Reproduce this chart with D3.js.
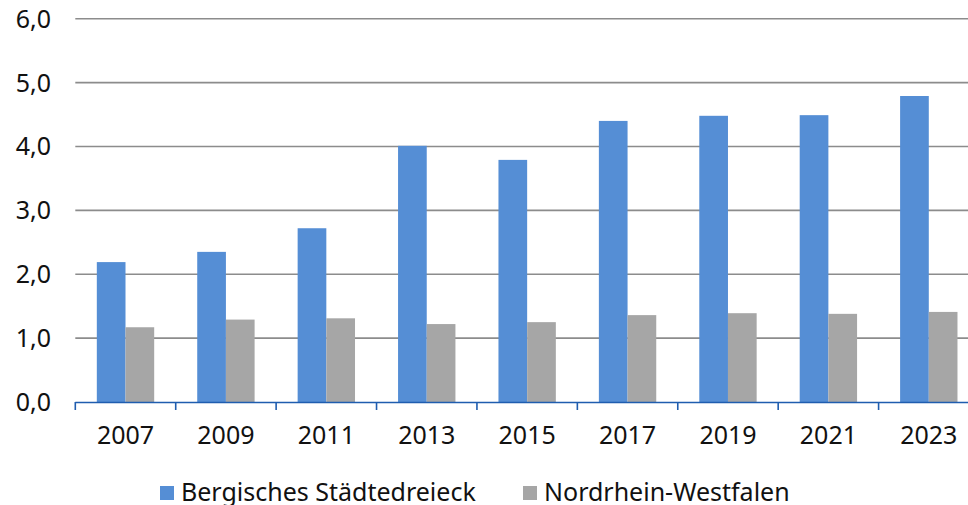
<!DOCTYPE html>
<html>
<head>
<meta charset="utf-8">
<script src="https://cdn.jsdelivr.net/npm/d3@7"></script>
<style>
  body { margin: 0; background: #fff; }
  svg { display: block; font-family: "Noto Sans", "Open Sans", sans-serif; }
</style>
</head>
<body>
<script>
// Data
const years = ['2007', '2009', '2011', '2013', '2015', '2017', '2019', '2021', '2023']
const bergisch = [2.19, 2.35, 2.72, 4.01, 3.79, 4.40, 4.48, 4.49, 4.79]
const nrw = [1.17, 1.29, 1.31, 1.22, 1.25, 1.36, 1.39, 1.38, 1.41]
const seriesNames = ['Bergisches Städtedreieck', 'Nordrhein-Westfalen']
const seriesColors = ['#558ED5', '#A6A6A6']
const yTicks = [0, 1, 2, 3, 4, 5, 6]

const w = 968
const h = 505
const plotLeft = 75.3
const plotRight = 979
const plotTop = 18.7
const plotBottom = 402
const fontSize = '25px'

const svg = d3.select('body')
  .append('svg')
  .attr('width', w)
  .attr('height', h)

const x = d3.scaleBand().domain(years).range([plotLeft, plotRight]).padding(0)
const inner = d3.scaleBand().domain([0, 1])
  .range([0, x.bandwidth()])
  .paddingInner(0)
  .paddingOuter(0.75)
const y = d3.scaleLinear().domain([0, 6]).range([plotBottom, plotTop])

// Gridlines
svg.append('g')
  .selectAll('line')
  .data(yTicks.filter(d => d > 0))
  .enter()
  .append('line')
  .attr('x1', plotLeft)
  .attr('x2', w)
  .attr('y1', d => y(d))
  .attr('y2', d => y(d))
  .attr('stroke', '#8c8c8c')
  .attr('stroke-width', 1.6)

// y labels
svg.append('g')
  .selectAll('text')
  .data(yTicks)
  .enter()
  .append('text')
  .attr('x', 51)
  .attr('y', d => y(d) + 9)
  .attr('text-anchor', 'end')
  .style('font-size', fontSize)
  .attr('fill', '#111')
  .text(d => d3.format('.1f')(d).replace('.', ','))

// Bars
const rows = years.map((yr, i) => ({ year: yr, vals: [bergisch[i], nrw[i]] }))
const groups = svg.append('g')
  .selectAll('g')
  .data(rows)
  .enter()
  .append('g')
  .attr('transform', d => 'translate(' + x(d.year) + ',0)')

groups.selectAll('rect')
  .data(d => d.vals.map((v, k) => ({ k: k, v: v })))
  .enter()
  .append('rect')
  .attr('x', d => inner(d.k))
  .attr('width', inner.bandwidth())
  .attr('y', d => y(d.v))
  .attr('height', d => plotBottom - y(d.v))
  .attr('fill', d => seriesColors[d.k])

// x axis
const xAxis = d3.axisBottom(x).tickSize(0).tickPadding(0)
const gx = svg.append('g')
  .attr('transform', 'translate(0,' + plotBottom + ')')
  .call(xAxis)
gx.select('.domain').remove()
gx.selectAll('text')
  .attr('y', 42)
  .attr('dy', 0)
  .style('font-size', fontSize)
  .style('font-family', '"Noto Sans", "Open Sans", sans-serif')
  .attr('fill', '#111')

svg.append('line')
  .attr('x1', plotLeft)
  .attr('x2', w)
  .attr('y1', plotBottom + 0.5)
  .attr('y2', plotBottom + 0.5)
  .attr('stroke', '#1F5DAF')
  .attr('stroke-width', 1.6)

const boundaries = years.map(d => x(d)).concat([x(years[years.length - 1]) + x.bandwidth()])
svg.append('g')
  .selectAll('line')
  .data(boundaries)
  .enter()
  .append('line')
  .attr('x1', d => d)
  .attr('x2', d => d)
  .attr('y1', plotBottom)
  .attr('y2', plotBottom + 8)
  .attr('stroke', '#1F5DAF')
  .attr('stroke-width', 1.6)

// Legend
const legendX = [160, 523]
const legend = svg.append('g')
  .selectAll('g')
  .data(seriesNames)
  .enter()
  .append('g')
  .attr('transform', (d, i) => 'translate(' + legendX[i] + ',0)')
legend.append('rect')
  .attr('x', 0)
  .attr('y', 486)
  .attr('width', 14)
  .attr('height', 14)
  .attr('fill', (d, i) => seriesColors[i])
legend.append('text')
  .attr('x', 21)
  .attr('y', 501)
  .style('font-size', fontSize)
  .attr('fill', '#111')
  .text(d => d)
</script>
</body>
</html>
